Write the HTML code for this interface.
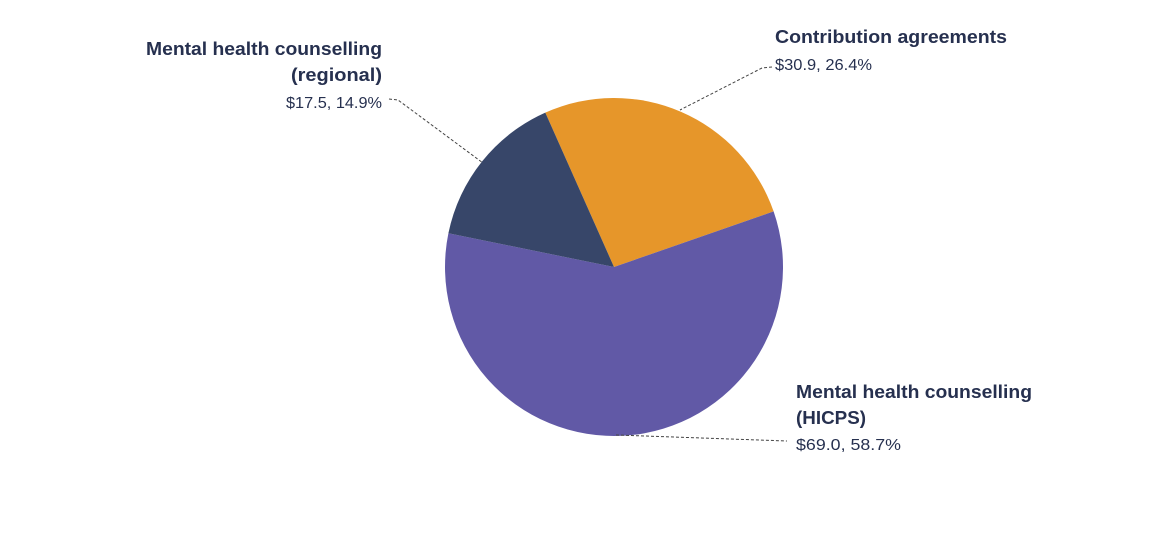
<!DOCTYPE html>
<html><head><meta charset="utf-8"><style>
html,body{margin:0;padding:0;background:#fff;}
svg{display:block;}
.b{font-family:"Liberation Sans",sans-serif;font-weight:bold;font-size:18px;fill:#26304f;}
.n{font-family:"Liberation Sans",sans-serif;font-size:16px;fill:#26304f;}
</style></head><body>
<svg width="1170" height="536" viewBox="0 0 1170 536" xmlns="http://www.w3.org/2000/svg">
<path d="M614,267 L545.3,112.6 A169,169 0 0 1 773.6,211.4 Z" fill="#e6962a"/>
<path d="M614,267 L773.6,211.4 A169,169 0 1 1 448.4,233.3 Z" fill="#6159a6"/>
<path d="M614,267 L448.4,233.3 A169,169 0 0 1 545.3,112.6 Z" fill="#374669"/>
<g stroke="#444" stroke-width="1" stroke-dasharray="3,2" fill="none">
<polyline points="389,99 398,100 483,163"/>
<polyline points="772,67 762,68 680,110"/>
<polyline points="616,435 787,441"/>
</g>
<text class="b" x="382" y="55" text-anchor="end" textLength="236" lengthAdjust="spacingAndGlyphs">Mental health counselling</text>
<text class="b" x="382" y="81" text-anchor="end" textLength="91" lengthAdjust="spacingAndGlyphs">(regional)</text>
<text class="n" x="382" y="108" text-anchor="end" textLength="96" lengthAdjust="spacingAndGlyphs">$17.5, 14.9%</text>
<text class="b" x="775" y="43" textLength="232" lengthAdjust="spacingAndGlyphs">Contribution agreements</text>
<text class="n" x="775" y="70" textLength="97" lengthAdjust="spacingAndGlyphs">$30.9, 26.4%</text>
<text class="b" x="796" y="398" textLength="236" lengthAdjust="spacingAndGlyphs">Mental health counselling</text>
<text class="b" x="796" y="424" textLength="70" lengthAdjust="spacingAndGlyphs">(HICPS)</text>
<text class="n" x="796" y="450" textLength="105" lengthAdjust="spacingAndGlyphs">$69.0, 58.7%</text>
</svg>
</body></html>
